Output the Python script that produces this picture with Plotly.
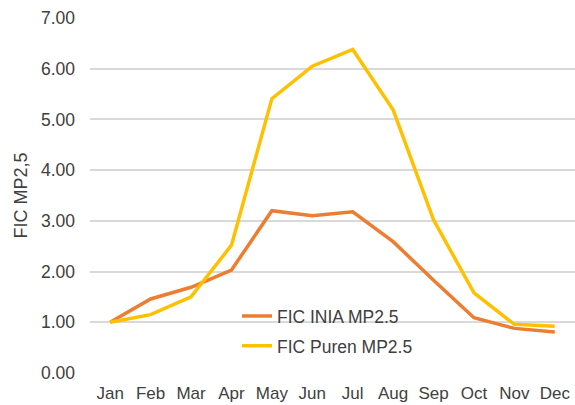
import plotly.graph_objects as go

months = ["Jan", "Feb", "Mar", "Apr", "May", "Jun", "Jul", "Aug", "Sep", "Oct", "Nov", "Dec"]
fic_inia = [1.00, 1.46, 1.69, 2.03, 3.20, 3.10, 3.18, 2.59, 1.83, 1.09, 0.88, 0.81]
fic_puren = [1.00, 1.15, 1.50, 2.52, 5.41, 6.05, 6.38, 5.19, 3.02, 1.58, 0.96, 0.92]
y_ticks = [0, 1, 2, 3, 4, 5, 6, 7]

fig = go.Figure()
fig.add_trace(go.Scatter(x=months, y=fic_inia, mode="lines", name="FIC INIA MP2.5",
                         line=dict(color="#ED7D31", width=3.5), legendgroup="a"))
fig.add_trace(go.Scatter(x=months, y=fic_puren, mode="lines", name="FIC Puren MP2.5",
                         line=dict(color="#FFC000", width=3.5), legendgroup="b"))

fig.update_layout(
    width=575, height=405,
    margin=dict(l=90, r=0, t=18, b=32),
    paper_bgcolor="white", plot_bgcolor="white",
    font=dict(family="Liberation Sans, Arial, sans-serif", size=17, color="#404040"),
    showlegend=True,
    legend=dict(x=0.303, y=0.211, xanchor="left", yanchor="top",
                bgcolor="rgba(0,0,0,0)", font=dict(size=17.5, color="#404040"),
                tracegroupgap=4),
    xaxis=dict(type="category", range=[-0.5, 11.5], showgrid=False, showline=False,
               ticks="", ticklabelstandoff=8, tickfont=dict(size=17, color="#404040")),
    yaxis=dict(range=[0, 7], tickvals=y_ticks, tickformat=".2f",
               showgrid=True, gridcolor="#D9D9D9", gridwidth=1.5,
               zeroline=False, showline=False, ticks="", ticklabelstandoff=14,
               title=dict(text="FIC MP2,5", font=dict(size=18, color="#404040"), standoff=8),
               tickfont=dict(size=17.5, color="#404040")),
)

fig.write_html("out.html",
               config={"displayModeBar": False},
               post_script="document.body.style.margin='0';document.body.style.overflow='hidden';")
